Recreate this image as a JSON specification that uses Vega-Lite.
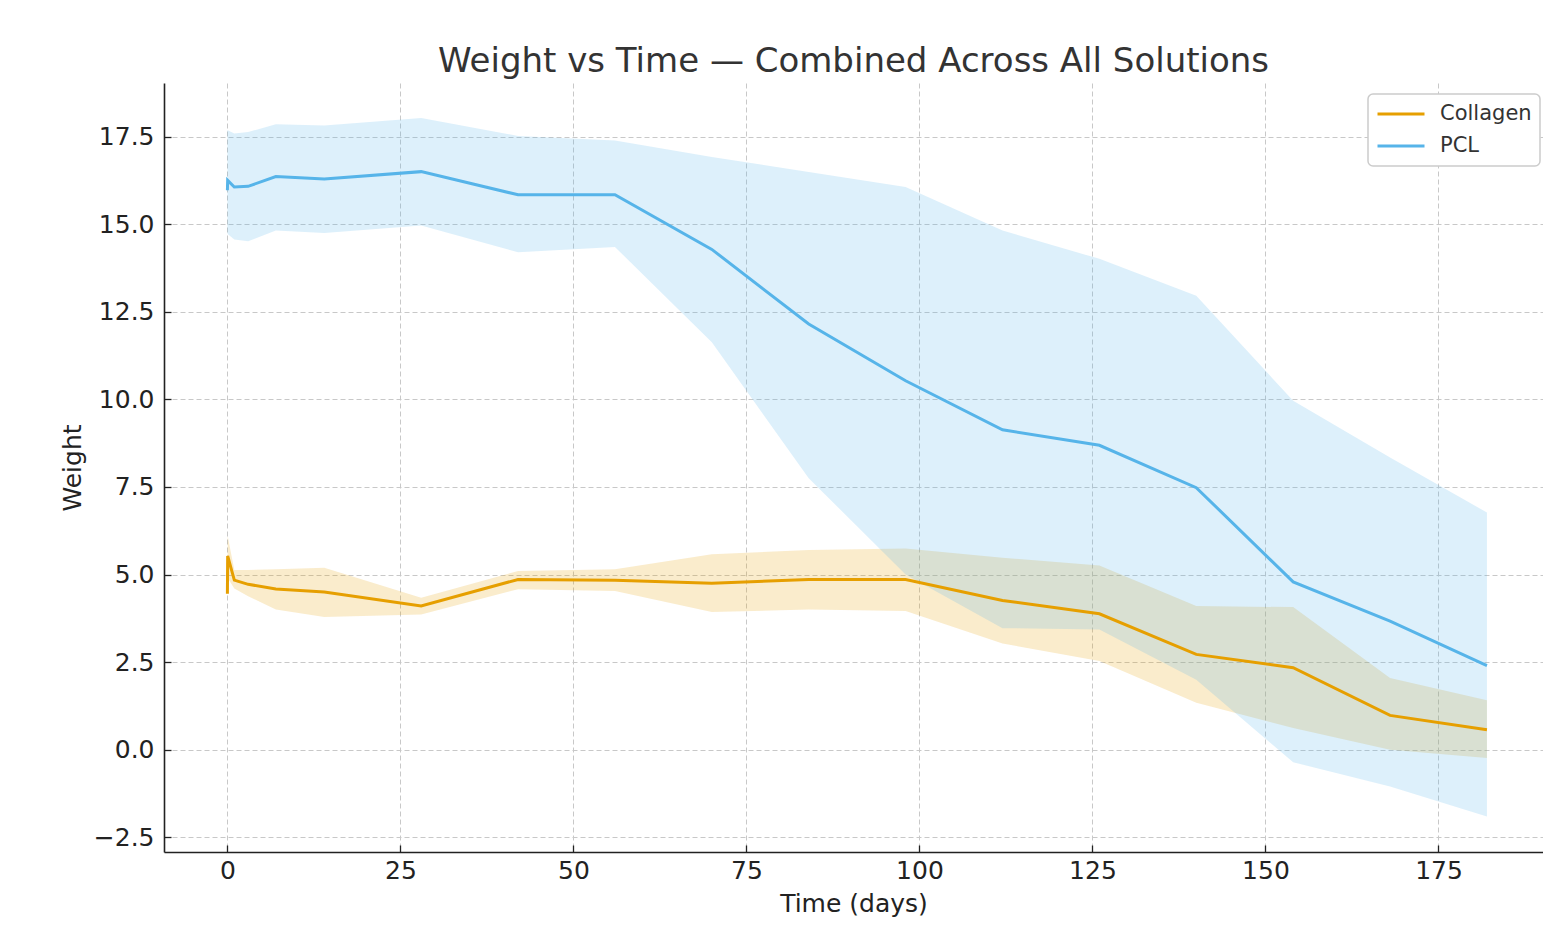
{
  "$schema": "https://vega.github.io/schema/vega-lite/v6.json",
  "width": 1379,
  "height": 769,
  "autosize": {"type": "none"},
  "padding": {"left": 164, "top": 83, "right": 0, "bottom": 74},
  "background": "white",
  "title": {
    "text": "Weight vs Time — Combined Across All Solutions",
    "fontSize": 34,
    "fontWeight": "normal",
    "font": "DejaVu Sans",
    "color": "#333333",
    "anchor": "middle",
    "baseline": "alphabetic",
    "offset": -23
  },
  "data": {
    "values": [
      {"series": "Collagen", "t": 0, "mean": 4.45, "lo": 4.35, "hi": 4.6},
      {"series": "Collagen", "t": 0.04, "mean": 5.53, "lo": 4.9, "hi": 6.1},
      {"series": "Collagen", "t": 1, "mean": 4.84, "lo": 4.6, "hi": 5.13},
      {"series": "Collagen", "t": 3, "mean": 4.72, "lo": 4.38, "hi": 5.13},
      {"series": "Collagen", "t": 7, "mean": 4.59, "lo": 4.0, "hi": 5.15},
      {"series": "Collagen", "t": 14, "mean": 4.5, "lo": 3.79, "hi": 5.19},
      {"series": "Collagen", "t": 28, "mean": 4.1, "lo": 3.86, "hi": 4.34},
      {"series": "Collagen", "t": 42, "mean": 4.86, "lo": 4.58, "hi": 5.1},
      {"series": "Collagen", "t": 56, "mean": 4.84, "lo": 4.53, "hi": 5.15},
      {"series": "Collagen", "t": 70, "mean": 4.75, "lo": 3.93, "hi": 5.58},
      {"series": "Collagen", "t": 84, "mean": 4.86, "lo": 4.0, "hi": 5.7},
      {"series": "Collagen", "t": 98, "mean": 4.86, "lo": 3.96, "hi": 5.74},
      {"series": "Collagen", "t": 112, "mean": 4.26, "lo": 3.03, "hi": 5.48},
      {"series": "Collagen", "t": 126, "mean": 3.88, "lo": 2.53, "hi": 5.26},
      {"series": "Collagen", "t": 140, "mean": 2.72, "lo": 1.34, "hi": 4.1},
      {"series": "Collagen", "t": 154, "mean": 2.34, "lo": 0.62, "hi": 4.07},
      {"series": "Collagen", "t": 168, "mean": 0.98, "lo": 0.0, "hi": 2.05},
      {"series": "Collagen", "t": 182, "mean": 0.57, "lo": -0.24, "hi": 1.41},
      {"series": "PCL", "t": 0, "mean": 15.97, "lo": 14.77, "hi": 17.68},
      {"series": "PCL", "t": 0.04, "mean": 16.25, "lo": 14.72, "hi": 17.68},
      {"series": "PCL", "t": 1, "mean": 16.06, "lo": 14.56, "hi": 17.59},
      {"series": "PCL", "t": 3, "mean": 16.08, "lo": 14.51, "hi": 17.63},
      {"series": "PCL", "t": 7, "mean": 16.36, "lo": 14.82, "hi": 17.85},
      {"series": "PCL", "t": 14, "mean": 16.29, "lo": 14.75, "hi": 17.82},
      {"series": "PCL", "t": 28, "mean": 16.5, "lo": 14.96, "hi": 18.03},
      {"series": "PCL", "t": 42, "mean": 15.84, "lo": 14.2, "hi": 17.52},
      {"series": "PCL", "t": 56, "mean": 15.84, "lo": 14.35, "hi": 17.39},
      {"series": "PCL", "t": 70, "mean": 14.28, "lo": 11.63, "hi": 16.92},
      {"series": "PCL", "t": 84, "mean": 12.15, "lo": 7.75, "hi": 16.49},
      {"series": "PCL", "t": 98, "mean": 10.53, "lo": 5.0, "hi": 16.06},
      {"series": "PCL", "t": 112, "mean": 9.13, "lo": 3.47, "hi": 14.82},
      {"series": "PCL", "t": 126, "mean": 8.69, "lo": 3.43, "hi": 14.01},
      {"series": "PCL", "t": 140, "mean": 7.48, "lo": 2.0, "hi": 12.96},
      {"series": "PCL", "t": 154, "mean": 4.79, "lo": -0.36, "hi": 9.96},
      {"series": "PCL", "t": 168, "mean": 3.67, "lo": -1.05, "hi": 8.34},
      {"series": "PCL", "t": 182, "mean": 2.4, "lo": -1.91, "hi": 6.77}
    ]
  },
  "encoding": {
    "x": {
      "field": "t",
      "type": "quantitative",
      "scale": {"domain": [-9.16, 190.1], "nice": false, "zero": false},
      "axis": {
        "title": "Time (days)",
        "values": [0, 25, 50, 75, 100, 125, 150, 175],
        "format": "d",
        "labelPadding": 13,
        "titlePadding": 8
      }
    },
    "color": {
      "field": "series",
      "type": "nominal",
      "scale": {"domain": ["Collagen", "PCL"], "range": ["#E69F00", "#56B4E9"]},
      "legend": {
        "title": null,
        "orient": "none",
        "legendX": 1204,
        "legendY": 11,
        "symbolType": "stroke",
        "symbolSize": 2209,
        "symbolStrokeWidth": 3,
        "symbolOpacity": 1,
        "labelFontSize": 21,
        "labelColor": "#333333",
        "labelOffset": 14,
        "fillColor": "white",
        "strokeColor": "#cccccc",
        "cornerRadius": 5,
        "padding": 8,
        "clipHeight": 24,
        "rowPadding": 8
      }
    }
  },
  "layer": [
    {
      "mark": {"type": "area", "fillOpacity": 0.2, "strokeWidth": 0},
      "encoding": {
        "y": {"field": "lo", "type": "quantitative"},
        "y2": {"field": "hi"}
      }
    },
    {
      "mark": {"type": "line", "strokeWidth": 3},
      "encoding": {
        "y": {
          "field": "mean",
          "type": "quantitative",
          "scale": {"domain": [-2.92, 19.03], "nice": false, "zero": false},
          "axis": {
            "title": "Weight",
            "values": [-2.5, 0, 2.5, 5, 7.5, 10, 12.5, 15, 17.5],
            "format": ".1f",
            "labelPadding": 17,
            "titlePadding": 8
          }
        }
      }
    }
  ],
  "config": {
    "font": "DejaVu Sans",
    "view": {"stroke": null},
    "legend": {"strokeWidth": 1.5},
    "axis": {
      "grid": true,
      "gridColor": "#c8c8c8",
      "gridDash": [5, 3],
      "gridWidth": 1,
      "domainColor": "#222222",
      "domainWidth": 1.6,
      "tickColor": "#222222",
      "tickSize": -7,
      "tickWidth": 1.3,
      "labelFontSize": 25,
      "labelColor": "#222222",
      "titleFontSize": 25,
      "titleFontWeight": "normal",
      "titleColor": "#222222"
    }
  }
}
